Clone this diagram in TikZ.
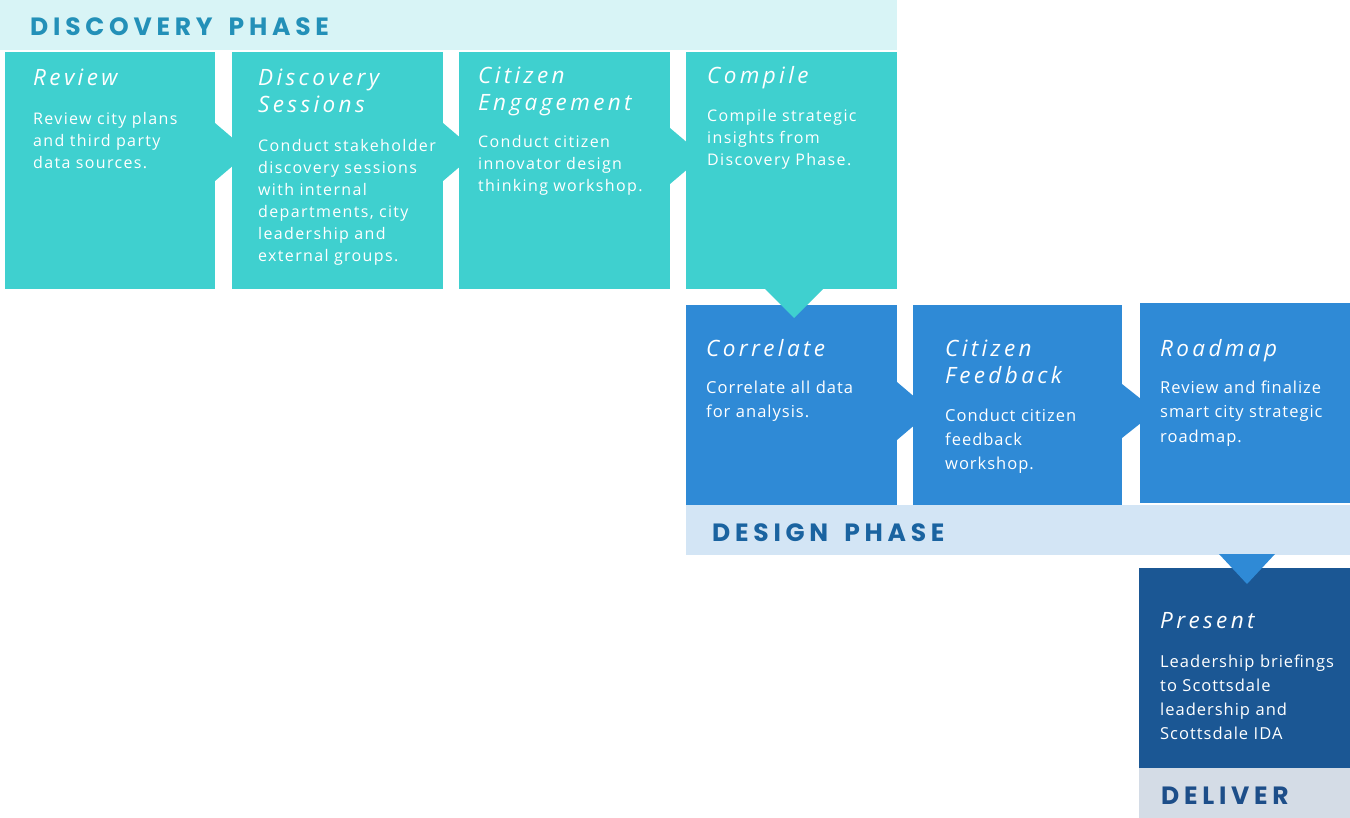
\documentclass[tikz,border=0pt]{standalone}
\usepackage{fontspec}
\setmainfont{Open Sans}
\newfontfamily\bandfont[LetterSpace=19]{Poppins}
\newfontfamily\titlefont[LetterSpace=15]{Open Sans}
\newfontfamily\bodyfont[LetterSpace=8.5]{Open Sans}
\newfontfamily\bodyfontb[LetterSpace=6]{Open Sans}
\usetikzlibrary{calc}
\definecolor{tealbox}{HTML}{3FD0CF}
\definecolor{tealband}{HTML}{D8F4F6}
\definecolor{tealtext}{HTML}{2390B8}
\definecolor{bluebox}{HTML}{2F8AD6}
\definecolor{blueband}{HTML}{D3E5F5}
\definecolor{bluetext}{HTML}{1A63A0}
\definecolor{darkbox}{HTML}{1B5794}
\definecolor{grayband}{HTML}{D4DCE6}
\definecolor{darktext}{HTML}{1D4E89}
\begin{document}
\begin{tikzpicture}[x=1pt,y=-1pt,
  panel/.style={draw=none,inner sep=0pt,outer sep=0pt,anchor=north west},
  bandlabel/.style={inner sep=0pt,anchor=base west,font={\bandfont\bfseries\fontsize{25}{30}\selectfont}},
  steptitle/.style={inner sep=0pt,anchor=base west,text=white,text width=210pt,align=left,font={\titlefont\itshape\fontsize{22.5}{26.5}\selectfont}},
  stepbody/.style={inner sep=0pt,anchor=base west,text=white,text width=210pt,align=left,font={\bodyfont\fontsize{16}{22}\selectfont}},
  stepbodyb/.style={stepbody,font={\bodyfontb\fontsize{16.5}{24}\selectfont}}
]
\useasboundingbox (0,0) rectangle (1350,818);
\fill[white] (0,0) rectangle (1350,818);
% bands
\node[panel,fill=tealband,minimum width=897pt,minimum height=50pt] (band1) at (0,0) {};
\node[panel,fill=blueband,minimum width=664pt,minimum height=50pt] (band2) at (686,505) {};
\node[panel,fill=grayband,minimum width=211pt,minimum height=50pt] (band3) at (1139,768) {};
% row 1
\node[panel,fill=tealbox,minimum width=210pt,minimum height=237pt] (review) at (5,52) {};
\node[panel,fill=tealbox,minimum width=211pt,minimum height=237pt] (sessions) at (232,52) {};
\node[panel,fill=tealbox,minimum width=211pt,minimum height=237pt] (engage) at (459,52) {};
\node[panel,fill=tealbox,minimum width=211pt,minimum height=237pt] (compile) at (686,52) {};
% row 2
\node[panel,fill=bluebox,minimum width=211pt,minimum height=200pt] (correlate) at (686,305) {};
\node[panel,fill=bluebox,minimum width=209pt,minimum height=200pt] (feedback) at (913,305) {};
\node[panel,fill=bluebox,minimum width=210pt,minimum height=200pt] (roadmap) at (1140,303) {};
% deliver
\node[panel,fill=darkbox,minimum width=211pt,minimum height=200pt] (present) at (1139,568) {};
% arrows row 1
\fill[tealbox] ($(review.north east)+(0,71)$) -- ($(review.north east)+(34,100)$) -- ($(review.north east)+(0,129)$) -- cycle;
\fill[tealbox] ($(sessions.north east)+(0,71)$) -- ($(sessions.north east)+(34,100)$) -- ($(sessions.north east)+(0,129)$) -- cycle;
\fill[tealbox] ($(engage.north east)+(0,76)$) -- ($(engage.north east)+(33,104)$) -- ($(engage.north east)+(0,132)$) -- cycle;
\fill[tealbox] ($(compile.south west)+(79,0)$) -- ($(compile.south west)+(108,29)$) -- ($(compile.south west)+(137,0)$) -- cycle;
% arrows row 2
\fill[bluebox] ($(correlate.north east)+(0,77)$) -- ($(correlate.north east)+(34,106)$) -- ($(correlate.north east)+(0,135)$) -- cycle;
\fill[bluebox] ($(feedback.north east)+(0,79)$) -- ($(feedback.north east)+(34,106)$) -- ($(feedback.north east)+(0,133)$) -- cycle;
\fill[bluebox] ($(band2.south west)+(533,-1)$) -- ($(band2.south west)+(561,29)$) -- ($(band2.south west)+(589,-1)$) -- cycle;
% band labels
\node[bandlabel,text=tealtext] (l1) at (30,36) {DISCOVERY\hspace{6pt} PHASE};
\node[bandlabel,text=bluetext] (l2) at (712,541) {DESIGN\hspace{6pt} PHASE};
\node[bandlabel,text=darktext] (l3) at (1161,804) {DELIVER};
% row 1 texts
\node[steptitle] (t1) at (33,86) {Review};
\node[stepbody] (b1) at (33,125) {Review city plans\\and third party\\data sources.};
\node[steptitle] (t2) at (258,86) {Discovery\\Sessions};
\node[stepbody] (b2) at (258,152) {Conduct stakeholder\\discovery sessions\\with internal\\departments, city\\leadership and\\external groups.};
\node[steptitle] (t3) at (478,84) {Citizen\\Engagement};
\node[stepbody] (b3) at (478,148) {Conduct citizen\\innovator design\\thinking workshop.};
\node[steptitle] (t4) at (707,84) {Compile};
\node[stepbody] (b4) at (707,122) {Compile strategic\\insights from\\Discovery Phase.};
% row 2 texts
\node[steptitle] (t5) at (706,357) {Correlate};
\node[stepbodyb] (b5) at (706,394) {Correlate all data\\for analysis.};
\node[steptitle] (t6) at (945,357) {Citizen\\Feedback};
\node[stepbodyb] (b6) at (945,421) {Conduct citizen\\feedback\\workshop.};
\node[steptitle] (t7) at (1160,357) {Roadmap};
\node[stepbodyb] (b7) at (1160,394) {Review and finalize\\smart city strategic\\roadmap.};
% present
\node[steptitle] (t8) at (1160,628) {Present};
\node[stepbodyb] (b8) at (1160,667) {Leadership briefings\\to Scottsdale\\leadership and\\Scottsdale IDA};
\end{tikzpicture}
\end{document}
